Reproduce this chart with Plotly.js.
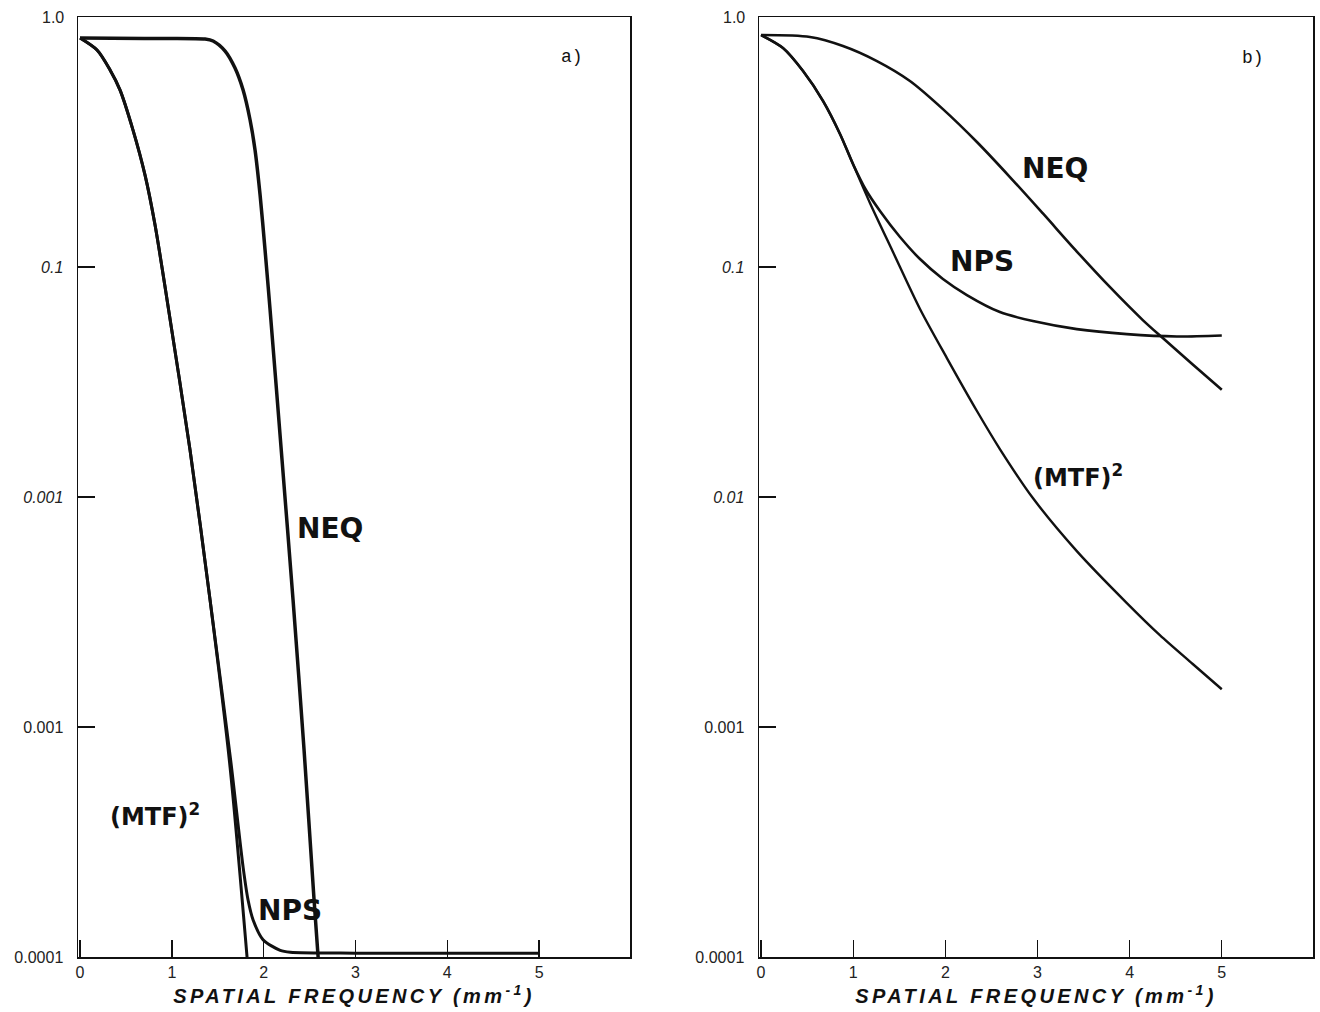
<!DOCTYPE html>
<html><head><meta charset="utf-8">
<script src="https://cdn.plot.ly/plotly-3.0.1.min.js"></script>
<style>html,body{margin:0;padding:0;background:#fff}#chart{width:1320px;height:1012px}
.xtitle,.x2title{letter-spacing:3.4px}</style>
</head><body><div id="chart"></div>
<script>
// ---- Panel a) ----
const aMtfX = [0, 0.185, 0.327, 0.436, 0.577, 0.708, 0.817, 0.948, 1.198, 1.416, 1.634, 1.819];
const aMtfY = [0.99, 0.878, 0.719, 0.588, 0.394, 0.251, 0.1523, 0.0719, 0.016, 0.00357, 0.00067, 0.0001];
const aNpsX = [0, 0.185, 0.327, 0.436, 0.577, 0.708, 0.817, 0.948, 1.198, 1.416, 1.64, 1.776, 1.83, 1.885, 1.993, 2.18, 2.29, 3, 4, 5];
const aNpsY = [0.99, 0.878, 0.719, 0.588, 0.394, 0.251, 0.1523, 0.0719, 0.016, 0.00357, 0.00072, 0.000246, 0.000177, 0.000145, 0.000119, 0.000107, 0.000105, 0.000104, 0.000104, 0.000104];
const aNeqX = [0, 0.7, 1.362, 1.449, 1.58, 1.688, 1.776, 1.852, 1.906, 1.961, 2.015, 2.07, 2.2, 2.32, 2.44, 2.549, 2.593];
const aNeqY = [0.99, 0.985, 0.98, 0.961, 0.869, 0.733, 0.588, 0.4357, 0.3226, 0.2056, 0.1186, 0.065, 0.01449, 0.00357, 0.000794, 0.000177, 0.0001];

// ---- Panel b) ----
const bMtfX = [0, 0.239, 0.456, 0.673, 0.857, 0.998, 1.182, 1.432, 1.725, 2.017, 2.343, 2.592, 2.95, 3.427, 3.97, 4.328, 4.685, 5.0];
const bMtfY = [1.02, 0.895, 0.711, 0.527, 0.379, 0.2805, 0.1898, 0.1162, 0.0657, 0.0402, 0.02366, 0.01617, 0.0099, 0.00582, 0.00346, 0.00251, 0.00188, 0.00146];
const bNpsX = [0, 0.239, 0.456, 0.673, 0.857, 0.998, 1.139, 1.291, 1.508, 1.725, 1.974, 2.234, 2.592, 2.95, 3.427, 3.97, 4.512, 5.0];
const bNpsY = [1.02, 0.895, 0.711, 0.527, 0.379, 0.2805, 0.2162, 0.1752, 0.135, 0.1083, 0.0887, 0.0755, 0.0637, 0.0582, 0.0537, 0.0511, 0.0499, 0.0504];
const bNeqX = [0, 0.531, 0.889, 1.258, 1.616, 1.974, 2.343, 2.701, 3.059, 3.427, 3.785, 4.143, 4.36, 4.685, 5.0];
const bNeqY = [1.02, 1.0, 0.914, 0.786, 0.644, 0.486, 0.3496, 0.2462, 0.1709, 0.1168, 0.0819, 0.0588, 0.0491, 0.0377, 0.0293];

// ---- Ticks ----
const xTickVals = [0, 1, 2, 3, 4, 5];
const xTickText = ['0', '1', '2', '3', '4', '5'];
const yTickVals = [0.0001, 0.001, 0.01, 0.1];
const yTickTextA = ['0.0001', '0.001', '<i>0.001</i>', '<i>0.1</i>'];
const yTickTextB = ['0.0001', '0.001', '<i>0.01</i>', '<i>0.1</i>'];
const topLabel = '1.0';
const xTitle = 'SPATIAL FREQUENCY (mm<sup>-1</sup>)';

const ink = '#111';
function line(x, y, w, xa, ya) {
  return {x: x, y: y, type: 'scatter', mode: 'lines', xaxis: xa, yaxis: ya,
    line: {color: ink, width: w, shape: 'spline', smoothing: 0.8}, hoverinfo: 'skip', showlegend: false};
}
const traces = [
  line(aMtfX, aMtfY, 3, 'x', 'y'),
  line(aNpsX, aNpsY, 3, 'x', 'y'),
  line(aNeqX, aNeqY, 3.5, 'x', 'y'),
  line(bMtfX, bMtfY, 2.4, 'x2', 'y2'),
  line(bNpsX, bNpsY, 2.6, 'x2', 'y2'),
  line(bNeqX, bNeqY, 2.6, 'x2', 'y2')
];

const tickFont = {family: 'Liberation Sans, Arial, sans-serif', size: 16, color: '#222'};
function xax(domain, anchor) {
  return {domain: domain, anchor: anchor, range: [-0.022, 5.99], tickvals: xTickVals, ticktext: xTickText,
    ticks: 'inside', ticklen: 17, tickwidth: 1.3, tickcolor: ink, showline: true, mirror: true,
    linecolor: ink, linewidth: 1.5, showgrid: false, zeroline: false, tickfont: tickFont,
    title: {text: xTitle, standoff: 9, font: {family: 'Liberation Sans, Arial, sans-serif', size: 20, weight: 'bold', style: 'italic', color: ink}}};
}
function yax(anchor, ticktext) {
  return {domain: [0.0543, 0.9832], anchor: anchor, type: 'log', range: [-4, 0.087],
    tickvals: yTickVals, ticktext: ticktext, ticks: 'inside', ticklen: 17, tickwidth: 1.3, tickcolor: ink,
    showline: true, mirror: true, linecolor: ink, linewidth: 1.5, showgrid: false, zeroline: false,
    tickfont: tickFont, ticklabelstandoff: 10};
}
const lblFont = {family: 'DejaVu Sans, Liberation Sans, sans-serif', size: 28, weight: 'bold', color: ink};
const mtfFont = {family: 'DejaVu Sans, Liberation Sans, sans-serif', size: 24, weight: 'bold', color: ink};
const annotations = [
  {text: topLabel, xref: 'x domain', yref: 'y domain', x: 0, y: 1, xanchor: 'right', yanchor: 'middle', xshift: -12, showarrow: false, font: tickFont},
  {text: topLabel, xref: 'x2 domain', yref: 'y2 domain', x: 0, y: 1, xanchor: 'right', yanchor: 'middle', xshift: -12, showarrow: false, font: tickFont},
  {text: 'a)', xref: 'x', yref: 'y', x: 5.36, y: -0.087, showarrow: false, font: {family: 'Liberation Mono, Courier New, monospace', size: 18, color: ink}},
  {text: 'b)', xref: 'x2', yref: 'y2', x: 5.34, y: -0.09, showarrow: false, font: {family: 'Liberation Mono, Courier New, monospace', size: 18, color: ink}},
  {text: 'NEQ', xref: 'x', yref: 'y', x: 2.72, y: -2.135, showarrow: false, font: lblFont},
  {text: 'NPS', xref: 'x', yref: 'y', x: 2.29, y: -3.796, showarrow: false, font: lblFont},
  {text: '(MTF)<sup>2</sup>', xref: 'x', yref: 'y', x: 0.82, y: -3.383, showarrow: false, font: mtfFont},
  {text: 'NEQ', xref: 'x2', yref: 'y2', x: 3.19, y: -0.57, showarrow: false, font: lblFont},
  {text: 'NPS', xref: 'x2', yref: 'y2', x: 2.40, y: -0.978, showarrow: false, font: lblFont},
  {text: '(MTF)<sup>2</sup>', xref: 'x2', yref: 'y2', x: 3.44, y: -1.909, showarrow: false, font: mtfFont}
];
const layout = {
  width: 1320, height: 1012, margin: {l: 0, r: 0, t: 0, b: 0},
  paper_bgcolor: '#fff', plot_bgcolor: '#fff', showlegend: false,
  xaxis: xax([0.0591, 0.4773], 'y'),
  yaxis: yax('x', yTickTextA),
  xaxis2: xax([0.575, 0.9947], 'y2'),
  yaxis2: yax('x2', yTickTextB),
  annotations: annotations
};
Plotly.newPlot('chart', traces, layout, {staticPlot: true});
</script></body></html>
